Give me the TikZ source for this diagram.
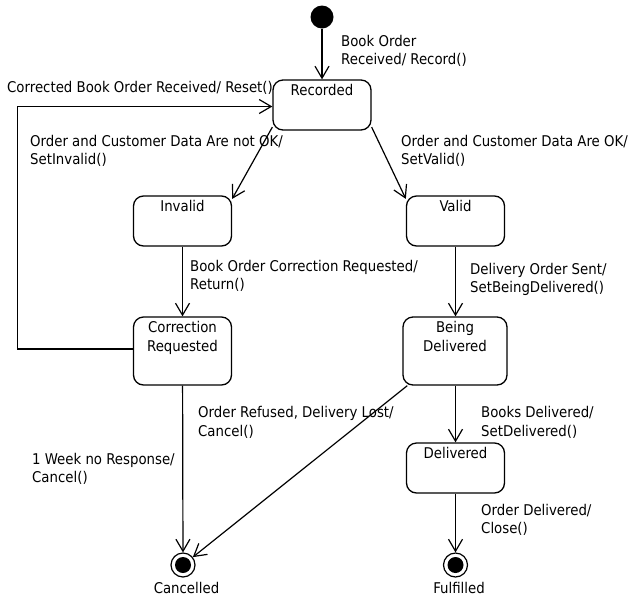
\documentclass[tikz,border=0pt]{standalone}
\usepackage{fontspec}
\setmainfont{DejaVu Sans Condensed}
\usetikzlibrary{arrows.meta,calc}
\begin{document}
\begin{tikzpicture}[x=1pt,y=-1pt,
  font=\fontsize{14.8}{18.5}\selectfont,
  every node/.style={inner sep=0pt},
  statebox/.style={draw, line width=1.3pt, rounded corners=10pt,
    minimum width=98pt, minimum height=50pt},
  stname/.style={anchor=north, yshift=-5pt, align=center, inner sep=0pt},
  initstate/.style={circle, fill=black, minimum size=23pt},
  endstate/.style={circle, draw, line width=1.2pt, minimum size=24pt,
    path picture={\fill (path picture bounding box.center) circle (8pt);}},
  trans/.style={line width=1.2pt, -{Straight Barb[length=12pt,width=14pt,line width=1.2pt]}},
  tlabel/.style={anchor=west, align=left}
]
\useasboundingbox (0,0) rectangle (629,598);

% states
\node[initstate] (init) at (322,17) {};
\node[statebox, label={[stname]north:Recorded}] (rec) at (322,105) {};
\node[statebox, label={[stname]north:Invalid}] (inv) at (182.5,221) {};
\node[statebox, label={[stname]north:Valid}] (val) at (455.5,221) {};
\node[statebox, minimum height=68pt, label={[stname]north:Correction\\Requested}] (corr) at (182.5,351) {};
\node[statebox, minimum width=104pt, minimum height=68pt, label={[stname]north:Being\\Delivered}] (being) at (455,351) {};
\node[statebox, label={[stname]north:Delivered}] (del) at (455.5,468) {};
\node[endstate] (canc) at (183,565) {};
\node[endstate] (ful) at (455.5,565) {};
\node (cancname) at (186.5,588) {Cancelled};
\node (fulname) at (459,588) {Fulfilled};

% transitions
\draw[trans] (init) -- (rec);
\draw[trans] (rec.204) -- (inv.24);
\draw[trans] (rec.-24) -- (val.156);
\draw[trans] ([yshift=2pt]corr.west) -- ++(-115,0) |- ([yshift=-1.5pt]rec.west);
\draw[trans] (inv) -- (corr);
\draw[trans] (val) -- (being.north -| val.south);
\draw[trans] (corr) -- (canc);
\draw[trans] (being.216) -- (canc);
\draw[trans] (being.south -| del.north) -- (del);
\draw[trans] (del) -- (ful);

% transition labels
\node[tlabel] (l1) at (341,51) {Book Order\\Received/ Record()};
\node[tlabel] (l2) at (7,88) {Corrected Book Order Received/ Reset()};
\node[tlabel] (l3) at (30,151) {Order and Customer Data Are not OK/\\SetInvalid()};
\node[tlabel] (l4) at (401,151) {Order and Customer Data Are OK/\\SetValid()};
\node[tlabel] (l5) at (190,276) {Book Order Correction Requested/\\Return()};
\node[tlabel] (l6) at (470,279.5) {Delivery Order Sent/\\SetBeingDelivered()};
\node[tlabel] (l7) at (198,422.5) {Order Refused, Delivery Lost/\\Cancel()};
\node[tlabel] (l8) at (481,422.5) {Books Delivered/\\SetDelivered()};
\node[tlabel] (l9) at (32,469) {1 Week no Response/\\Cancel()};
\node[tlabel] (l10) at (481,520) {Order Delivered/\\Close()};
\end{tikzpicture}
\end{document}
